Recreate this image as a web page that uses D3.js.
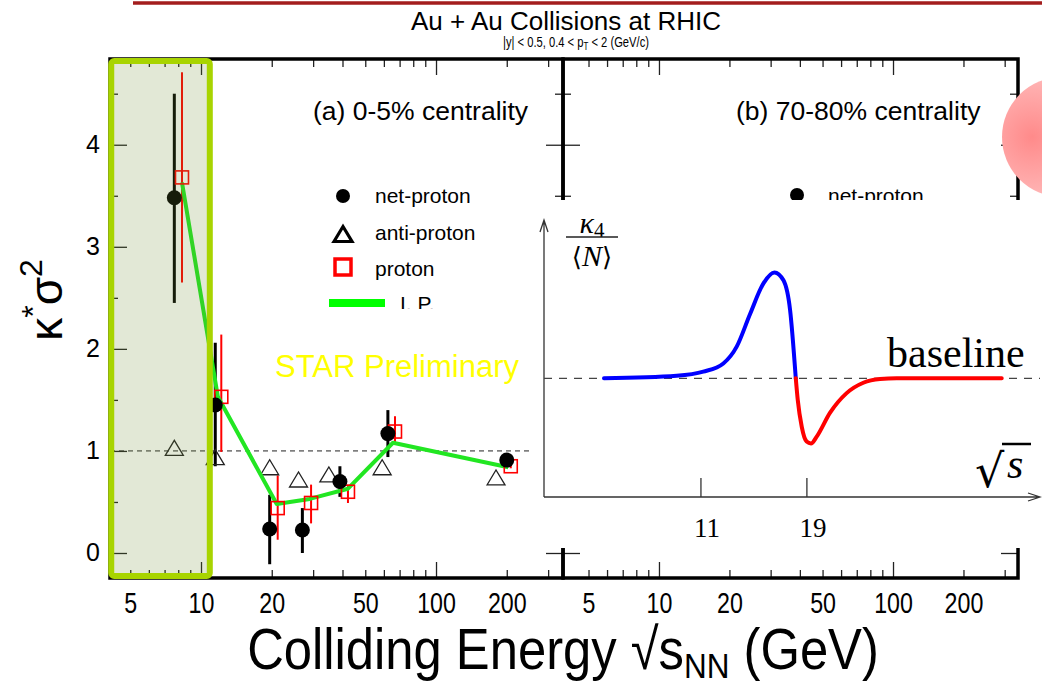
<!DOCTYPE html>
<html>
<head>
<meta charset="utf-8">
<script src="https://cdn.jsdelivr.net/npm/d3@7"></script>
<style>
  body { margin: 0; background: #fff; }
  svg { display: block; font-family: "Liberation Sans", Arial, sans-serif; }
  .tick line { stroke: #222; stroke-width: 1.3; }
</style>
</head>
<body>
<div id="chart"></div>
<script>
// ---- data ----
const energies = [7.7, 11.5, 19.6, 27, 39, 62.4, 200];
const netProton = [3.48, 1.45, 0.235, 0.225, 0.70, 1.17, 0.91];
const netProtonLo = [2.45, 0.85, -0.11, 0.0, 0.55, 0.94, 0.87];
const netProtonHi = [4.50, 2.06, 0.57, 0.44, 0.85, 1.40, 0.95];

const protonE = [8.3, 12.2, 21.2, 29.4, 42.2, 66.9, 208];
const proton = [3.68, 1.53, 0.44, 0.49, 0.60, 1.19, 0.85];
const protonLo = [2.65, 0.99, 0.13, 0.29, 0.49, 1.06, 0.83];
const protonHi = [4.71, 2.14, 0.76, 0.67, 0.67, 1.34, 0.87];

const antiProtonE = [7.7, 11.5, 19.6, 26, 35, 59, 180];
const antiProton = [1.03, 0.94, 0.84, 0.72, 0.77, 0.84, 0.74];

const ipE = [8.3, 11.8, 21.0, 29.0, 42.2, 65.6, 203];
const ip = [3.63, 1.53, 0.48, 0.53, 0.63, 1.08, 0.84];

const minorX = [5, 6, 7, 8, 9, 20, 30, 40, 50, 60, 70, 80, 90, 200, 300];
const majorX = [10, 100];
const labelX = [5, 10, 20, 50, 100, 200];
const majorY = [0, 1, 2, 3, 4];
const minorY = [0.5, 1.5, 2.5, 3.5, 4.5];

const highlightE = [4.15, 10.9];   // shaded low-energy region

// inset sketch (kappa4/<N> vs sqrt s)
const insetTicks = [11, 19];
const blueX = [3.68, 9.17, 11.18, 12.69, 13.70, 14.71, 15.72, 16.55, 17.23, 17.73, 18.16];
const blueY = [0, 0.026, 0.067, 0.15, 0.32, 0.65, 0.96, 1.07, 0.99, 0.69, 0];
const redX = [18.16, 18.31, 18.61, 18.98, 19.31, 19.74, 20.74, 22.0, 23.26, 24.52, 25.78, 33.71];
const redY = [0, -0.22, -0.49, -0.64, -0.66, -0.59, -0.35, -0.15, -0.045, -0.007, 0, 0];

const W = 1042, H = 687;
const yTop = 59, yBot = 578;
const NARROW = 0.8; // condensed look of the axis fonts

const svg = d3.select('#chart').append('svg')
  .attr('width', W).attr('height', H);
svg.append('rect').attr('width', W).attr('height', H).attr('fill', '#fff');

const defs = svg.append('defs');
const blob = defs.append('radialGradient').attr('id', 'blob')
  .attr('cx', '0.25').attr('cy', '0.5').attr('r', '0.8');
blob.append('stop').attr('offset', '0').attr('stop-color', '#ff8a8a');
blob.append('stop').attr('offset', '0.55').attr('stop-color', '#ffb0b0');
blob.append('stop').attr('offset', '1').attr('stop-color', '#ffe0e0');
defs.append('clipPath').attr('id', 'ipclip')
  .append('rect').attr('x', 390).attr('y', 280).attr('width', 80).attr('height', 29);

// header
svg.append('line')
  .attr('x1', 133).attr('x2', W).attr('y1', 3).attr('y2', 3)
  .attr('stroke', '#a31d1d').attr('stroke-width', 3.5);
svg.append('text')
  .attr('x', 566).attr('y', 30).attr('text-anchor', 'middle')
  .attr('font-size', 26).text('Au + Au Collisions at RHIC');
const sub = svg.append('text')
  .attr('transform', `translate(576,47) scale(${NARROW},1)`)
  .attr('text-anchor', 'middle').attr('font-size', 14);
sub.append('tspan').text('|y| < 0.5, 0.4 < p');
sub.append('tspan').attr('font-size', 10).attr('dy', 3).text('T');
sub.append('tspan').attr('dy', -3).text(' < 2 (GeV/c)');

const y = d3.scaleLinear().domain([-0.245, 4.84]).range([yBot, yTop]);

const panels = [
  { x0: 110, x1: 563, domain: [4.1, 347] },
  { x0: 563, x1: 1018, domain: [3.89, 342] },
];

const noDomain = g => g.select('.domain').remove();

panels.forEach(p => {
  const x = d3.scaleLog().domain(p.domain).range([p.x0, p.x1]);
  p.x = x;
  const mins = minorX.filter(v => v > p.domain[0] && v < p.domain[1]);
  const g = svg.append('g');

  g.append('g').attr('transform', `translate(0,${yBot})`)
    .call(d3.axisBottom(x).tickValues(mins).tickSize(-8).tickFormat('')).call(noDomain);
  g.append('g').attr('transform', `translate(0,${yBot})`)
    .call(d3.axisBottom(x).tickValues(majorX).tickSize(-16).tickFormat('')).call(noDomain);
  g.append('g').attr('transform', `translate(0,${yTop})`)
    .call(d3.axisTop(x).tickValues(mins).tickSize(-8).tickFormat('')).call(noDomain);
  g.append('g').attr('transform', `translate(0,${yTop})`)
    .call(d3.axisTop(x).tickValues(majorX).tickSize(-16).tickFormat('')).call(noDomain);

  g.append('g').attr('transform', `translate(${p.x0},0)`)
    .call(d3.axisLeft(y).tickValues(minorY).tickSize(-8).tickFormat('')).call(noDomain);
  g.append('g').attr('transform', `translate(${p.x0},0)`)
    .call(d3.axisLeft(y).tickValues(majorY).tickSize(-17).tickFormat('')).call(noDomain);
  g.append('g').attr('transform', `translate(${p.x1},0)`)
    .call(d3.axisRight(y).tickValues(minorY).tickSize(-8).tickFormat('')).call(noDomain);
  g.append('g').attr('transform', `translate(${p.x1},0)`)
    .call(d3.axisRight(y).tickValues(majorY).tickSize(-17).tickFormat('')).call(noDomain);

  // tick labels
  g.append('g').attr('transform', `translate(0,${yBot})`)
    .call(d3.axisBottom(x).tickValues(labelX).tickSize(0).tickPadding(14).tickFormat(d3.format('d')))
    .call(noDomain)
    .selectAll('text')
    .attr('font-size', 29)
    .attr('transform', `scale(${NARROW},1)`)
    .attr('fill', '#000');
});

// y tick labels (left panel only)
svg.append('g').attr('transform', `translate(${panels[0].x0},0)`)
  .call(d3.axisLeft(y).tickValues(majorY).tickSize(0).tickPadding(10).tickFormat(d3.format('d')))
  .call(noDomain)
  .selectAll('text').attr('font-size', 25).attr('fill', '#000');

// frames
panels.forEach(p => {
  svg.append('rect')
    .attr('x', p.x0).attr('y', yTop)
    .attr('width', p.x1 - p.x0).attr('height', yBot - yTop)
    .attr('fill', 'none').attr('stroke', '#000').attr('stroke-width', 3.5);
});

// ---- left panel data ----
const xa = panels[0].x;
const plot = svg.append('g');

plot.append('line')
  .attr('x1', xa(panels[0].domain[0])).attr('x2', xa(340))
  .attr('y1', y(1)).attr('y2', y(1))
  .attr('stroke', '#222').attr('stroke-width', 1).attr('stroke-dasharray', '5,4');

// error bars
plot.selectAll('.perr').data(protonE).join('line')
  .attr('x1', d => xa(d)).attr('x2', d => xa(d))
  .attr('y1', (d, i) => y(protonLo[i])).attr('y2', (d, i) => y(protonHi[i]))
  .attr('stroke', '#f00').attr('stroke-width', 2);
plot.selectAll('.nerr').data(energies).join('line')
  .attr('x1', d => xa(d)).attr('x2', d => xa(d))
  .attr('y1', (d, i) => y(netProtonLo[i])).attr('y2', (d, i) => y(netProtonHi[i]))
  .attr('stroke', '#000').attr('stroke-width', 3);

// anti-proton triangles
const tri = (cx, cy, w, h) => `M${cx - w / 2},${cy + h / 2}L${cx},${cy - h / 2}L${cx + w / 2},${cy + h / 2}Z`;
plot.selectAll('.tri').data(antiProtonE).join('path')
  .attr('d', (d, i) => tri(xa(d), y(antiProton[i]), 18, 15))
  .attr('fill', 'none').attr('stroke', '#222').attr('stroke-width', 1.3);

// I.P. line
plot.append('path')
  .datum(ipE.map((e, i) => [e, ip[i]]))
  .attr('d', d3.line().x(d => xa(d[0])).y(d => y(d[1])))
  .attr('fill', 'none').attr('stroke', '#22e622').attr('stroke-width', 4)
  .attr('stroke-linejoin', 'round');

// proton squares
plot.selectAll('.sq').data(protonE).join('rect')
  .attr('x', d => xa(d) - 6.5).attr('y', (d, i) => y(proton[i]) - 6.5)
  .attr('width', 13).attr('height', 13)
  .attr('fill', 'none').attr('stroke', '#f00').attr('stroke-width', 1.6);

// net-proton dots
plot.selectAll('.dot').data(energies).join('circle')
  .attr('cx', d => xa(d)).attr('cy', (d, i) => y(netProton[i]))
  .attr('r', 7.5).attr('fill', '#000');

// shaded region on top
svg.append('rect')
  .attr('x', xa(highlightE[0])).attr('y', yTop + 2)
  .attr('width', xa(highlightE[1]) - xa(highlightE[0]))
  .attr('height', yBot - yTop - 4)
  .attr('rx', 3)
  .attr('fill', 'rgb(110,140,50)').attr('fill-opacity', 0.2)
  .attr('stroke', '#a8d400').attr('stroke-width', 6);

// labels in panels
svg.append('text').attr('x', 313).attr('y', 120).attr('font-size', 26.5)
  .text('(a) 0-5% centrality');
svg.append('text').attr('x', 736).attr('y', 120).attr('font-size', 26.5)
  .text('(b) 70-80% centrality');

// legend
const leg = svg.append('g').attr('font-size', 21);
leg.append('circle').attr('cx', 343).attr('cy', 196).attr('r', 7).attr('fill', '#000');
leg.append('text').attr('x', 375).attr('y', 203).text('net-proton');
leg.append('path').attr('d', tri(343, 234, 18, 15))
  .attr('fill', 'none').attr('stroke', '#000').attr('stroke-width', 3.2);
leg.append('text').attr('x', 375).attr('y', 240).text('anti-proton');
leg.append('rect').attr('x', 335).attr('y', 259).attr('width', 16).attr('height', 16)
  .attr('fill', 'none').attr('stroke', '#f00').attr('stroke-width', 3.5);
leg.append('text').attr('x', 375).attr('y', 276).text('proton');
leg.append('line').attr('x1', 329).attr('x2', 385).attr('y1', 303).attr('y2', 303)
  .attr('stroke', '#00ff00').attr('stroke-width', 8);
leg.append('text').attr('x', 400).attr('y', 311).attr('clip-path', 'url(#ipclip)').text('I. P.');

svg.append('circle').attr('cx', 797).attr('cy', 195).attr('r', 7).attr('fill', '#000');
svg.append('text').attr('x', 828).attr('y', 203).attr('font-size', 21).text('net-proton');

svg.append('text').attr('x', 275).attr('y', 377).attr('font-size', 31)
  .attr('fill', '#ffff00').text('STAR Preliminary');

// axis titles
const yl = svg.append('text')
  .attr('transform', 'translate(62,300) rotate(-90)')
  .attr('text-anchor', 'middle').attr('font-size', 46);
yl.append('tspan').text('κ');
yl.append('tspan').attr('font-size', 32).attr('dy', -18).text('*');
yl.append('tspan').attr('dy', 18).text('σ');
yl.append('tspan').attr('font-size', 32).attr('dy', -20).text('2');

const xl = svg.append('text')
  .attr('transform', 'translate(563,669) scale(0.875,1)')
  .attr('text-anchor', 'middle')
  .attr('font-size', 58);
xl.append('tspan').text('Colliding Energy √s');
xl.append('tspan').attr('font-size', 36).attr('dy', 9).text('NN');
xl.append('tspan').attr('dy', -9).text(' (GeV)');

// red blob
svg.append('circle').attr('cx', 1062).attr('cy', 137).attr('r', 60)
  .attr('fill', 'url(#blob)');

// ---- inset sketch ----
const inset = svg.append('g');
inset.append('rect').attr('x', 531).attr('y', 200).attr('width', W - 531).attr('height', 348)
  .attr('fill', '#fff');

const ix = d3.scaleLinear().domain([-0.85, 36.6]).range([544, 1040]);
const iy = d3.scaleLinear().domain([-1.2, 1.6]).range([497, 220]);

inset.append('path')
  .attr('d', `M${ix(-0.85)},${iy(-1.2)}V${iy(1.6)}M${ix(-0.85) - 4},${iy(1.6) + 12}L${ix(-0.85)},${iy(1.6)}L${ix(-0.85) + 4},${iy(1.6) + 12}`)
  .attr('fill', 'none').attr('stroke', '#333').attr('stroke-width', 1.3);
inset.append('path')
  .attr('d', `M${ix(-0.85)},${iy(-1.2)}H${ix(36.6)}M${ix(36.6) - 12},${iy(-1.2) - 4}L${ix(36.6)},${iy(-1.2)}L${ix(36.6) - 12},${iy(-1.2) + 4}`)
  .attr('fill', 'none').attr('stroke', '#333').attr('stroke-width', 1.3);

inset.selectAll('.itick').data(insetTicks).join('line')
  .attr('x1', d => ix(d)).attr('x2', d => ix(d))
  .attr('y1', iy(-1.2)).attr('y2', iy(-1.2) - 19)
  .attr('stroke', '#333').attr('stroke-width', 1.3);
inset.selectAll('.ilab').data(insetTicks).join('text')
  .attr('x', d => ix(d) + 6).attr('y', 537).attr('text-anchor', 'middle')
  .attr('font-family', '"Liberation Serif", serif').attr('font-size', 27)
  .text(d => d);

inset.append('line')
  .attr('x1', ix(-0.85)).attr('x2', ix(36.6)).attr('y1', iy(0)).attr('y2', iy(0))
  .attr('stroke', '#444').attr('stroke-width', 1.2).attr('stroke-dasharray', '8,7');

const iline = d3.line().x(d => ix(d[0])).y(d => iy(d[1])).curve(d3.curveMonotoneX);
inset.append('path').datum(blueX.map((v, i) => [v, blueY[i]]))
  .attr('d', iline).attr('fill', 'none').attr('stroke', '#0000ff')
  .attr('stroke-width', 4).attr('stroke-linecap', 'round');
inset.append('path').datum(redX.map((v, i) => [v, redY[i]]))
  .attr('d', iline).attr('fill', 'none').attr('stroke', '#ff0000')
  .attr('stroke-width', 4).attr('stroke-linecap', 'round');

inset.append('text').attr('x', 887).attr('y', 367)
  .attr('font-family', '"Liberation Serif", serif').attr('font-size', 42)
  .text('baseline');

// kappa4 / <N>
const serif = '"Liberation Serif", "DejaVu Serif", serif';
const k4 = inset.append('text').attr('x', 592).attr('y', 233).attr('text-anchor', 'middle')
  .attr('font-family', serif).attr('font-size', 30);
k4.append('tspan').attr('font-style', 'italic').text('κ');
k4.append('tspan').attr('font-size', 21).attr('dy', 4).text('4');
inset.append('line').attr('x1', 566).attr('x2', 618).attr('y1', 237).attr('y2', 237)
  .attr('stroke', '#222').attr('stroke-width', 1.3);
const nn = inset.append('text').attr('x', 592).attr('y', 266).attr('text-anchor', 'middle')
  .attr('font-family', serif).attr('font-size', 30);
nn.append('tspan').attr('font-family', '"DejaVu Serif", serif').attr('font-size', 26).text('⟨');
nn.append('tspan').attr('font-style', 'italic').text('N');
nn.append('tspan').attr('font-family', '"DejaVu Serif", serif').attr('font-size', 26).text('⟩');

// sqrt s
inset.append('text').attr('x', 975).attr('y', 487)
  .attr('font-family', '"DejaVu Serif", serif').attr('font-size', 46).text('√');
inset.append('line').attr('x1', 1002).attr('x2', 1031).attr('y1', 444).attr('y2', 444)
  .attr('stroke', '#000').attr('stroke-width', 2.5);
inset.append('text').attr('x', 1007).attr('y', 478)
  .attr('font-family', serif).attr('font-style', 'italic').attr('font-size', 42).text('s');
</script>
</body>
</html>
